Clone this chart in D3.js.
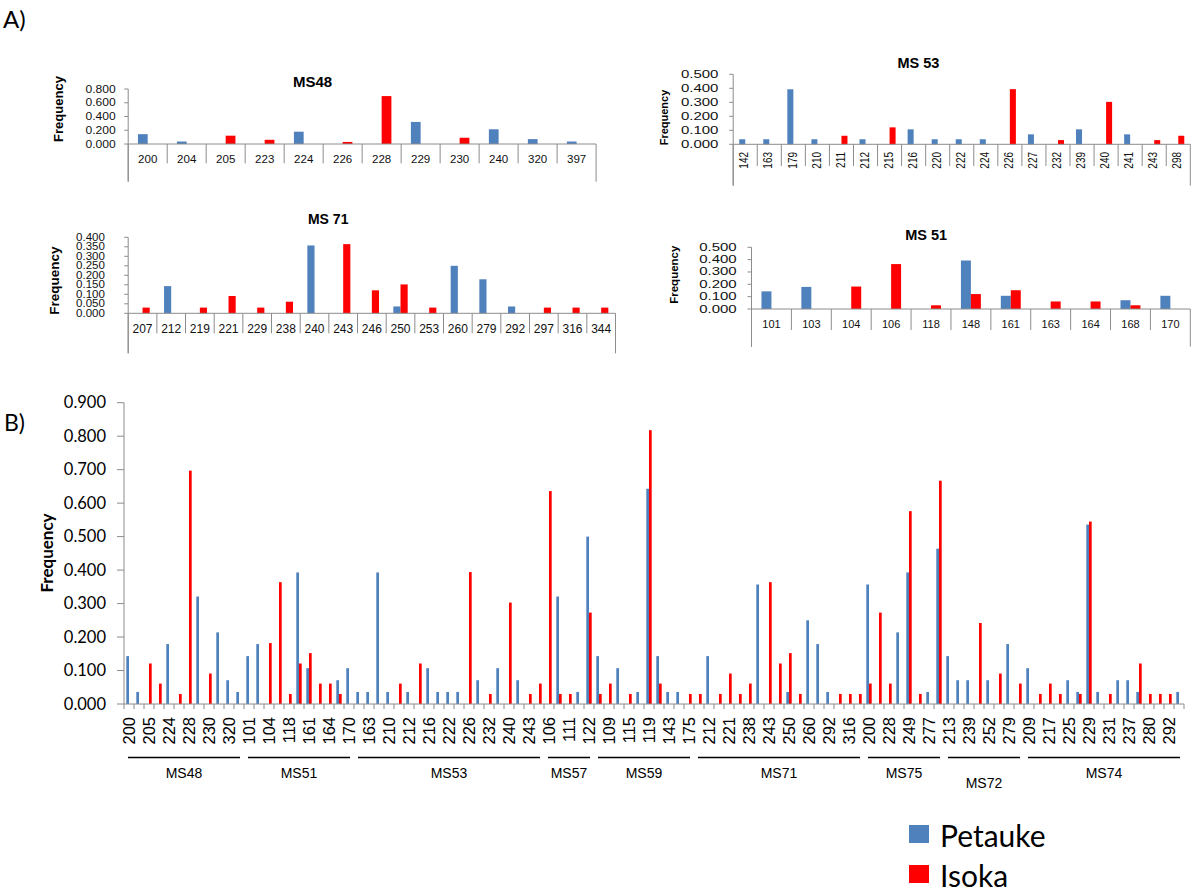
<!DOCTYPE html>
<html><head><meta charset="utf-8">
<script src="https://cdn.jsdelivr.net/npm/d3@7"></script>
<style>body{margin:0;background:#fff}svg{display:block}</style>
</head><body>
<svg id="chart" width="1200" height="892"></svg>
<script>
// ---------------- DATA ----------------
const seriesNames = ["Petauke", "Isoka"];

const ms48Alleles = ["200","204","205","223","224","226","228","229","230","240","320","397"];
const ms48Petauke = [0.143,0.036,0,0,0.179,0,0,0.321,0,0.214,0.071,0.036];
const ms48Isoka   = [0,0,0.121,0.061,0,0.030,0.697,0,0.091,0,0,0];

const ms51Alleles = ["101","103","104","106","118","148","161","163","164","168","170"];
const ms51Petauke = [0.143,0.179,0,0,0,0.393,0.107,0,0,0.071,0.107];
const ms51Isoka   = [0,0,0.182,0.364,0.030,0.121,0.152,0.061,0.061,0.030,0];

const ms53Alleles = ["142","163","179","210","211","212","215","216","220","222","224","226","227","232","239","240","241","243","298"];
const ms53Petauke = [0.036,0.036,0.393,0.036,0,0.036,0,0.107,0.036,0.036,0.036,0,0.071,0,0.107,0,0.071,0,0];
const ms53Isoka   = [0,0,0,0,0.061,0,0.121,0,0,0,0,0.394,0,0.030,0,0.303,0,0.030,0.061];

// unreadable (hidden) allele labels are left empty
const ms57Alleles = ["106","","111","","122"];
const ms57Petauke = [0,0.321,0,0.036,0.500];
const ms57Isoka   = [0.636,0.030,0.030,0,0.273];

const ms59Alleles = ["","109","","115","","119","","143","","175"];
const ms59Petauke = [0.143,0,0.107,0,0.036,0.643,0.143,0.036,0.036,0];
const ms59Isoka   = [0.030,0.061,0,0.030,0,0.818,0.061,0,0,0.030];

const ms71Alleles = ["207","212","219","221","229","238","240","243","246","250","253","260","279","292","297","316","344"];
const ms71Petauke = [0,0.143,0,0,0,0,0.357,0,0,0.036,0,0.250,0.179,0.036,0,0,0];
const ms71Isoka   = [0.030,0,0.030,0.091,0.030,0.061,0,0.364,0.121,0.152,0.030,0,0,0,0.030,0.030,0.030];

const ms75Alleles = ["200","","228","","249","","277",""];
const ms75Petauke = [0.357,0,0,0.214,0.393,0,0.036,0.464];
const ms75Isoka   = [0.061,0.273,0.061,0,0.576,0.030,0,0.667];

const ms72Alleles = ["213","","239","","252","","279",""];
const ms72Petauke = [0.143,0.071,0.071,0,0.071,0,0.179,0];
const ms72Isoka   = [0,0,0,0.242,0,0.091,0,0.061];

const ms74Alleles = ["209","","217","","225","","229","","231","","237","","280","","292",""];
const ms74Petauke = [0.107,0,0,0,0.071,0.036,0.536,0.036,0,0.071,0.071,0.036,0,0,0,0.036];
const ms74Isoka   = [0,0.030,0.061,0.030,0,0.030,0.545,0,0.030,0,0,0.121,0.030,0.030,0.030,0];

const markersB = ["MS48","MS51","MS53","MS57","MS59","MS71","MS75","MS72","MS74"];
const yTicksB = [0,0.1,0.2,0.3,0.4,0.5,0.6,0.7,0.8,0.9];

// ---------------- STYLE ----------------
const BLUE = "#4F81BD", RED = "#FF0000", AXIS = "#8c8c8c";
const ARIAL = "'Liberation Sans', Arial, sans-serif";
const CAL = "Lato, 'Open Sans', sans-serif";
const svg = d3.select("#chart");
const fmt3 = d3.format(".3f");

// ---------------- PANEL A ----------------
function mini(c) {
  const n = c.alleles.length;
  const g = svg.append("g");
  const x = d3.scaleBand().domain(d3.range(n)).range([c.x0, c.x1]).padding(0);
  const y = d3.scaleLinear().domain([0, c.yMax]).range([c.yZero, c.yTop]);
  const bw = x.bandwidth() / 4;
  const rows = d3.range(n).map(i => ({i, p: c.pet[i], s: c.iso[i]}));
  g.selectAll(".pb").data(rows.filter(r => r.p > 0)).join("rect")
    .attr("x", r => x(r.i) + x.bandwidth()/2 - bw).attr("width", bw)
    .attr("y", r => y(r.p)).attr("height", r => y(0) - y(r.p)).attr("fill", BLUE);
  g.selectAll(".rb").data(rows.filter(r => r.s > 0)).join("rect")
    .attr("x", r => x(r.i) + x.bandwidth()/2).attr("width", bw)
    .attr("y", r => y(r.s)).attr("height", r => y(0) - y(r.s)).attr("fill", RED);
  // y axis
  const ticks = d3.range(0, c.yMax + 1e-9, c.yStep);
  g.append("line").attr("x1", c.x0).attr("x2", c.x0).attr("y1", y(c.yMax)).attr("y2", c.outerY)
    .attr("stroke", AXIS);
  g.selectAll(".yt").data(ticks).join("line")
    .attr("x1", c.x0 - 4).attr("x2", c.x0).attr("y1", d => y(d)).attr("y2", d => y(d)).attr("stroke", AXIS);
  g.selectAll(".yl").data(ticks).join("text")
    .attr("transform", d => `translate(${c.yLabRight},${y(d)}) scale(${c.yLabSx},1)`)
    .attr("dy", "0.35em").attr("text-anchor", "end")
    .style("font", `${c.yLabSize}px ${ARIAL}`).attr("fill", "#111").text(d => fmt3(d));
  // x axis with separators
  g.append("line").attr("x1", c.x0).attr("x2", c.x1).attr("y1", y(0)).attr("y2", y(0)).attr("stroke", AXIS);
  g.selectAll(".sep").data(d3.range(n + 1)).join("line")
    .attr("x1", i => c.x0 + i * x.bandwidth()).attr("x2", i => c.x0 + i * x.bandwidth())
    .attr("y1", y(0)).attr("y2", i => (i === 0 || i === n) ? c.outerY : c.sepY).attr("stroke", AXIS);
  const lab = g.selectAll(".xl").data(d3.range(n)).join("text")
    .style("font", `${c.xLabSize}px ${ARIAL}`).attr("fill", "#111").text(i => c.alleles[i]);
  if (c.rot) {
    lab.attr("transform", i => `translate(${x(i) + x.bandwidth()/2 - 1},${c.xLabY}) rotate(-90) scale(1,${c.xLabSx})`)
      .attr("text-anchor", "end").attr("dy", "0.35em");
  } else {
    lab.attr("transform", i => `translate(${x(i) + x.bandwidth()/2},${c.xLabY}) scale(${c.xLabSx},1)`)
      .attr("text-anchor", "middle").attr("dy", "0.35em");
  }
  g.append("text").attr("x", c.titleX).attr("y", c.titleY).attr("dy", "0.35em").attr("text-anchor", "middle")
    .style("font", `bold ${c.titleSize}px ${ARIAL}`).text(c.title);
  g.append("text").attr("transform", `translate(${c.freqX},${c.freqY}) rotate(-90)`)
    .attr("dy", "0.35em").attr("text-anchor", "middle")
    .style("font", `bold ${c.freqSize}px ${ARIAL}`).text("Frequency");
}

svg.append("text").attr("x", 3).attr("y", 28).style("font", `24px ${CAL}`).text("A)");

mini({title: "MS48", alleles: ms48Alleles, pet: ms48Petauke, iso: ms48Isoka, yMax: 0.8, yStep: 0.2,
  x0: 128.2, x1: 596.1, yTop: 89, yZero: 144, titleX: 312.6, titleY: 81.7, titleSize: 15,
  freqX: 58.3, freqY: 109, freqSize: 13, yLabRight: 115.7, yLabSize: 10.5, yLabSx: 1.15,
  rot: false, xLabY: 159.3, xLabSize: 11, xLabSx: 1.05, sepY: 163.3, outerY: 181.7});

mini({title: "MS 53", alleles: ms53Alleles, pet: ms53Petauke, iso: ms53Isoka, yMax: 0.5, yStep: 0.1,
  x0: 733.2, x1: 1190.3, yTop: 74.3, yZero: 144.3, titleX: 918.4, titleY: 63.3, titleSize: 14.5,
  freqX: 664, freqY: 117.5, freqSize: 11, yLabRight: 718.4, yLabSize: 10, yLabSx: 1.5,
  rot: true, xLabY: 152, xLabSize: 10, xLabSx: 1.2, sepY: 166, outerY: 185.7});

mini({title: "MS 71", alleles: ms71Alleles, pet: ms71Petauke, iso: ms71Isoka, yMax: 0.4, yStep: 0.05,
  x0: 128.2, x1: 615.5, yTop: 237.3, yZero: 313.3, titleX: 328.2, titleY: 219.3, titleSize: 14,
  freqX: 54.4, freqY: 280.7, freqSize: 13.5, yLabRight: 104.9, yLabSize: 10.5, yLabSx: 1.1,
  rot: false, xLabY: 328.3, xLabSize: 12, xLabSx: 1, sepY: 333.3, outerY: 353.3});

mini({title: "MS 51", alleles: ms51Alleles, pet: ms51Petauke, iso: ms51Isoka, yMax: 0.5, yStep: 0.1,
  x0: 751.5, x1: 1190.3, yTop: 247.3, yZero: 309, titleX: 926.2, titleY: 235, titleSize: 14.5,
  freqX: 673.8, freqY: 274.7, freqSize: 11.5, yLabRight: 736.7, yLabSize: 10, yLabSx: 1.5,
  rot: false, xLabY: 324, xLabSize: 11, xLabSx: 1, sepY: 330, outerY: 346.7});

// ---------------- PANEL B ----------------
const groupData = [
  [ms48Alleles, ms48Petauke, ms48Isoka], [ms51Alleles, ms51Petauke, ms51Isoka],
  [ms53Alleles, ms53Petauke, ms53Isoka], [ms57Alleles, ms57Petauke, ms57Isoka],
  [ms59Alleles, ms59Petauke, ms59Isoka], [ms71Alleles, ms71Petauke, ms71Isoka],
  [ms75Alleles, ms75Petauke, ms75Isoka], [ms72Alleles, ms72Petauke, ms72Isoka],
  [ms74Alleles, ms74Petauke, ms74Isoka]];
const cats = [];
const groups = [];
groupData.forEach((gd, gi) => {
  const start = cats.length;
  gd[0].forEach((a, k) => cats.push({key: cats.length, marker: markersB[gi], allele: a, p: gd[1][k], s: gd[2][k]}));
  groups.push({name: markersB[gi], start, end: cats.length - 1});
});

svg.append("text").attr("x", 4).attr("y", 431).style("font", `23px ${CAL}`).text("B)");

const xB = d3.scaleBand().domain(cats.map(d => d.key)).range([124, 1184]).padding(0);
const yB = d3.scaleLinear().domain([0, 0.9]).range([704, 402.7]);
const bwB = xB.bandwidth() * 0.27;
const gB = svg.append("g");

gB.selectAll(".bp").data(cats.filter(d => d.p > 0)).join("rect")
  .attr("x", d => xB(d.key) + xB.bandwidth()/2 - bwB).attr("width", bwB)
  .attr("y", d => yB(d.p)).attr("height", d => yB(0) - yB(d.p)).attr("fill", BLUE);
gB.selectAll(".bs").data(cats.filter(d => d.s > 0)).join("rect")
  .attr("x", d => xB(d.key) + xB.bandwidth()/2).attr("width", bwB)
  .attr("y", d => yB(d.s)).attr("height", d => yB(0) - yB(d.s)).attr("fill", RED);

// y axis
gB.append("line").attr("x1", 124).attr("x2", 124).attr("y1", yB(0.9)).attr("y2", yB(0)).attr("stroke", AXIS);
gB.selectAll(".ytB").data(yTicksB).join("line")
  .attr("x1", 117).attr("x2", 124).attr("y1", d => yB(d)).attr("y2", d => yB(d)).attr("stroke", AXIS);
gB.selectAll(".ylB").data(yTicksB).join("text")
  .attr("x", 106).attr("y", d => yB(d)).attr("dy", "0.35em").attr("text-anchor", "end")
  .style("font", `16.5px ${CAL}`).text(d => fmt3(d));
gB.append("text").attr("transform", "translate(47,553) rotate(-90)").attr("dy", "0.35em")
  .attr("text-anchor", "middle").style("font", `bold 17px ${CAL}`).text("Frequency");

// x axis
gB.append("line").attr("x1", 124).attr("x2", 1184).attr("y1", yB(0)).attr("y2", yB(0)).attr("stroke", AXIS);
gB.selectAll(".xtB").data(d3.range(cats.length + 1)).join("line")
  .attr("x1", i => 124 + i * xB.bandwidth()).attr("x2", i => 124 + i * xB.bandwidth())
  .attr("y1", yB(0)).attr("y2", yB(0) + 5).attr("stroke", AXIS);
gB.selectAll(".xlB").data(cats.filter(d => d.key % 2 === 0)).join("text")
  .attr("transform", d => `translate(${xB(d.key) + xB.bandwidth()/2},717) rotate(-90)`)
  .attr("dy", "0.36em").attr("text-anchor", "end")
  .style("font", `16.5px ${ARIAL}`).text(d => d.allele);

// marker group lines and labels
const gg = gB.selectAll(".grp").data(groups).join("g");
gg.append("line")
  .attr("x1", d => xB(d.start) + 4).attr("x2", d => xB(d.end) + xB.bandwidth() - 4)
  .attr("y1", 757.5).attr("y2", 757.5).attr("stroke", "#000").attr("stroke-width", 1.5);
gg.append("text")
  .attr("x", d => (xB(d.start) + xB(d.end) + xB.bandwidth()) / 2)
  .attr("y", d => d.name === "MS72" ? 783.5 : 773.5).attr("dy", "0.35em").attr("text-anchor", "middle")
  .style("font", `14px ${ARIAL}`).text(d => d.name);

// legend
const leg = svg.append("g").selectAll("g").data(seriesNames).join("g")
  .attr("transform", (d, i) => `translate(909,${825 + i * 40})`);
leg.append("rect").attr("width", 20).attr("height", 18).attr("fill", (d, i) => i ? RED : BLUE);
leg.append("text").attr("x", 31).attr("y", 22).style("font", `30px ${CAL}`).text(d => d);
</script>
</body></html>
